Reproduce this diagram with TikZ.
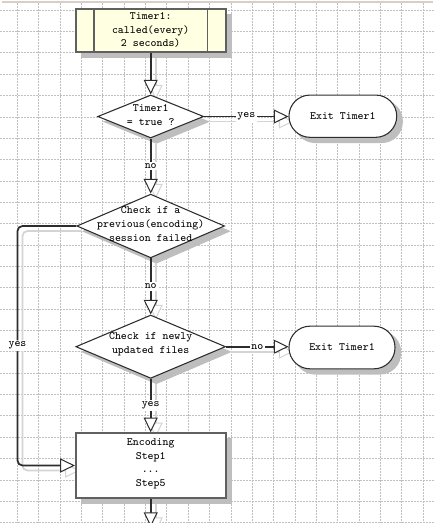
\documentclass[tikz,border=0pt]{standalone}
\usetikzlibrary{arrows.meta,shapes.geometric,calc}
\pgfdeclarelayer{gridlayer}
\pgfdeclarelayer{shadlayer}
\pgfsetlayers{gridlayer,shadlayer,main}
\definecolor{gridc}{RGB}{192,192,192}
\definecolor{linec}{RGB}{45,45,45}
\definecolor{shadc}{RGB}{190,190,190}
\definecolor{lshadc}{RGB}{212,212,212}
\definecolor{boxc}{RGB}{96,96,96}
\definecolor{notefill}{RGB}{255,255,225}
\definecolor{topc}{RGB}{216,208,200}
\tikzset{
  txt/.style={font=\ttfamily\fontsize{8.4pt}{10.3pt}\selectfont, align=center, inner sep=0pt},
  procbox/.style={rectangle, draw=boxc, line width=1.4pt, fill=white, inner sep=0pt},
  decision/.style={diamond, draw=linec, line width=0.8pt, fill=white, inner sep=0pt},
  term/.style={rectangle, rounded corners=15.8pt, draw=linec, line width=0.8pt, fill=white, inner sep=0pt},
  conn/.style={draw=linec, line width=1.3pt, -{Triangle[length=11pt,width=10.5pt,fill=white,line width=0.75pt]}},
  connshadow/.style={draw=lshadc, line width=1.3pt, -{Triangle[length=11pt,width=10.5pt,fill=white,line width=0.75pt]}},
  lbl/.style={font=\ttfamily\fontsize{8.4pt}{10.3pt}\selectfont, fill=white, inner sep=1.2pt},
  gridline/.style={draw=gridc, line width=0.75pt, dash pattern=on 1.5pt off 0.75pt},
  sh/.style={shift={(4.2pt,-3.9pt)}},
  cs/.style={shift={(3.75pt,-3.75pt)}},
}
\begin{document}
\begin{tikzpicture}[x=0.75pt,y=-0.75pt]
\useasboundingbox (0,0) rectangle (435,523);
% background grid
\begin{pgfonlayer}{gridlayer}
  \foreach \i in {0,...,19} \draw[gridline] (17.3+21.37*\i,3) -- (17.3+21.37*\i,523);
  \foreach \j in {0,...,24} \draw[gridline] (0,10.3+21.35*\j) -- (435,10.3+21.35*\j);
  \draw[topc, line width=1.2pt] (2,2) -- (433,2);
\end{pgfonlayer}

% nodes
\node[procbox, fill=notefill, minimum width=112.3pt, minimum height=32.25pt] (t1) at (150.7,30.8) {};
\draw[boxc, line width=1.4pt] ([xshift=14pt]t1.north west) -- ([xshift=14pt]t1.south west);
\draw[boxc, line width=1.4pt] ([xshift=-14.25pt]t1.north east) -- ([xshift=-14.25pt]t1.south east);
\node[txt] (t1t) at ([yshift=0.6pt]t1) {Timer1:\\called(every)\\2 seconds)};

\node[decision, minimum width=79.5pt, minimum height=32.25pt] (d1) at (150.7,116.5) {};
\node[txt] (d1t) at ([yshift=1pt]d1) {Timer1\\= true ?};

\node[term, minimum width=80.8pt, minimum height=31.7pt] (e1) at (342.85,116.2) {};
\node[txt] (e1t) at (e1) {Exit Timer1};

\node[decision, minimum width=110.8pt, minimum height=47.8pt] (d2) at (150.7,226) {};
\node[txt] (d2t) at ([yshift=1.3pt]d2) {Check if a\\previous(encoding)\\session failed};

\node[decision, minimum width=112.3pt, minimum height=47.5pt] (d3) at (150.7,346.7) {};
\node[txt] (d3t) at ([yshift=1.6pt]d3) {Check if newly\\updated files};

\node[term, minimum width=79.5pt, minimum height=32pt] (e2) at (342,347.5) {};
\node[txt] (e2t) at (e2) {Exit Timer1};

\node[procbox, minimum width=112.3pt, minimum height=48.3pt] (enc) at (150.7,465.5) {};
\node[txt] (enct) at ([yshift=1.3pt]enc) {Encoding\\Step1\\...\\Step5};

\coordinate (lx) at (17.5,0);
\coordinate (bend) at (150.7,527);

% shape shadows and connector shadows
\begin{pgfonlayer}{shadlayer}
  \fill[shadc] ([sh]t1.north west) rectangle ([sh]t1.south east);
  \fill[shadc] ([sh]enc.north west) rectangle ([sh]enc.south east);
  \fill[shadc] ([sh]d1.north) -- ([sh]d1.east) -- ([sh]d1.south) -- ([sh]d1.west) -- cycle;
  \fill[shadc] ([sh]d2.north) -- ([sh]d2.east) -- ([sh]d2.south) -- ([sh]d2.west) -- cycle;
  \fill[shadc] ([sh]d3.north) -- ([sh]d3.east) -- ([sh]d3.south) -- ([sh]d3.west) -- cycle;
  \fill[shadc, rounded corners=15.8pt] ([sh]e1.north west) rectangle ([sh]e1.south east);
  \fill[shadc, rounded corners=15.8pt] ([sh]e2.north west) rectangle ([sh]e2.south east);
  \draw[connshadow] ([cs]t1.south) -- ([cs]d1.north);
  \draw[connshadow] ([cs]d1.east) -- ([cs]e1.west |- d1.east);
  \draw[connshadow] ([cs]d1.south) -- ([cs]d2.north);
  \draw[connshadow] ([cs]d2.south) -- ([cs]d3.north);
  \draw[connshadow] ([cs]d3.east) -- ([cs]e2.west |- d3.east);
  \draw[connshadow] ([cs]d3.south) -- ([cs]enc.north);
  \draw[connshadow, rounded corners=3.75pt] ([cs]d2.west) -- ([cs]d2.west -| lx) -- ([cs]enc.west -| lx) -- ([cs]enc.west);
  \draw[connshadow] ([cs]enc.south) -- ([cs]bend);
\end{pgfonlayer}

% connectors
\draw[conn] (t1.south) -- (d1.north);
\draw[conn] (d1.east) -- node[lbl] {yes} (e1.west |- d1.east);
\draw[conn] (d1.south) -- node[lbl] {no} (d2.north);
\draw[conn] (d2.south) -- node[lbl] {no} (d3.north);
\draw[conn] (d3.east) -- node[lbl] {no} (e2.west |- d3.east);
\draw[conn] (d3.south) -- node[lbl] {yes} (enc.north);
\draw[conn, rounded corners=3.75pt] (d2.west) -- (d2.west -| lx) -- node[lbl] {yes} (enc.west -| lx) -- (enc.west);
\draw[conn] (enc.south) -- (bend);
\end{tikzpicture}
\end{document}
